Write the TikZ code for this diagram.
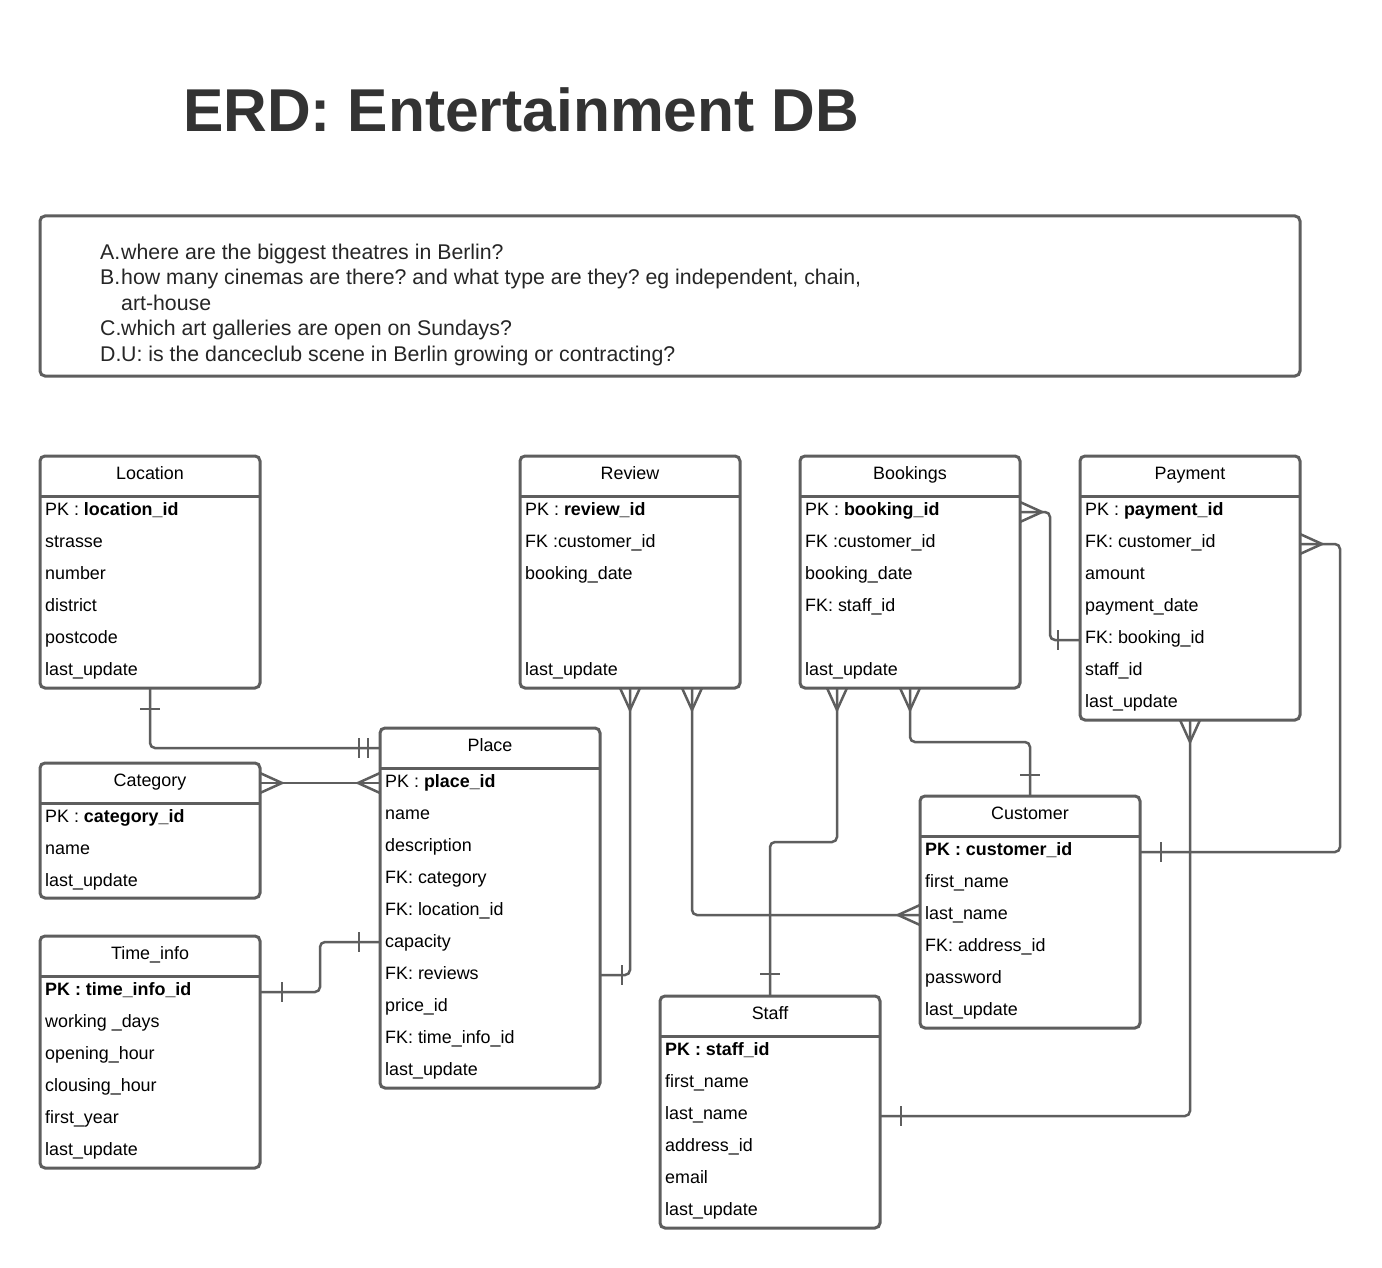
\documentclass[tikz,border=0pt]{standalone}
\usepackage{fontspec}
\setmainfont{Liberation Sans}
\usetikzlibrary{calc}
\frenchspacing
\definecolor{boxgray}{HTML}{5E5E5E}
\definecolor{titlegray}{HTML}{333333}
\tikzset{
  tbl/.style={draw=boxgray, line width=3pt, rounded corners=5pt, fill=white,
    minimum width=220pt, anchor=north west, inner sep=0pt, outer sep=0pt},
  tblline/.style={draw=boxgray, line width=3pt},
  hdr/.style={anchor=base, inner sep=0pt, font=\fontsize{17.9}{21}\selectfont, text=black},
  rowtxt/.style={anchor=base west, inner sep=0pt, font=\fontsize{17.9}{21}\selectfont, text=black},
  qtxt/.style={anchor=base west, inner sep=0pt, font=\fontsize{21.3}{25}\selectfont, text=black!85},
  conn/.style={draw=boxgray, line width=2.5pt, rounded corners=5pt},
  tick/.style={draw=boxgray, line width=2.5pt},
  crow/.style={draw=boxgray, line width=2.5pt, line join=miter},
}
\newcommand\erdbox[5]{%
  \node[tbl, minimum height=#4] (#1) at (#2,#3) {};
  \draw[tblline] ($(#1.north west)+(0,40)$) -- ($(#1.north east)+(0,40)$);
  \node[hdr] (#1-t) at ($(#1.north)+(0,23.5)$) {#5};
}
\begin{document}
\begin{tikzpicture}[x=1pt, y=-1pt]
\useasboundingbox[fill=white] (0,0) rectangle (1382,1268);

% title
\node[anchor=base west, inner sep=0pt, text=titlegray, font=\fontsize{60.5}{66}\selectfont\bfseries] (title) at (183,132) {ERD: Entertainment DB};

% questions box
\node[draw=boxgray, line width=3pt, rounded corners=5pt, minimum width=1260pt, minimum height=160pt, anchor=north west, inner sep=0pt, outer sep=0pt] (qbox) at (40,216) {};
\node[qtxt] (q1) at (100,259) {\makebox[21pt][l]{A.}where are the biggest theatres in Berlin?};
\node[qtxt] (q2) at (100,284.5) {\makebox[21pt][l]{B.}how many cinemas are there? and what type are they? eg independent, chain,};
\node[qtxt] (q3) at (121,310) {art-house};
\node[qtxt] (q4) at (100,335.5) {\makebox[21pt][l]{C.}which art galleries are open on Sundays?};
\node[qtxt] (q5) at (100,361) {\makebox[21pt][l]{D.}U: is the danceclub scene in Berlin growing or contracting?};

% tables
\erdbox{loc}{40}{456}{232}{Location}
\foreach \i/\txt in {0/{PK : \textbf{location\_id}}, 1/strasse, 2/number, 3/district, 4/postcode, 5/last\_update}
  \node[rowtxt] (loc-\i) at ($(loc.north west)+(5,59.5+32*\i)$) {\txt};

\erdbox{rev}{520}{456}{232}{Review}
\foreach \i/\txt in {0/{PK : \textbf{review\_id}}, 1/{FK :customer\_id}, 2/booking\_date, 5/last\_update}
  \node[rowtxt] (rev-\i) at ($(rev.north west)+(5,59.5+32*\i)$) {\txt};

\erdbox{book}{800}{456}{232}{Bookings}
\foreach \i/\txt in {0/{PK : \textbf{booking\_id}}, 1/{FK :customer\_id}, 2/booking\_date, 3/{FK: staff\_id}, 5/last\_update}
  \node[rowtxt] (book-\i) at ($(book.north west)+(5,59.5+32*\i)$) {\txt};

\erdbox{pay}{1080}{456}{264}{Payment}
\foreach \i/\txt in {0/{PK : \textbf{payment\_id}}, 1/{FK: customer\_id}, 2/amount, 3/payment\_date, 4/{FK: booking\_id}, 5/staff\_id, 6/last\_update}
  \node[rowtxt] (pay-\i) at ($(pay.north west)+(5,59.5+32*\i)$) {\txt};

\erdbox{place}{380}{728}{360}{Place}
\foreach \i/\txt in {0/{PK : \textbf{place\_id}}, 1/name, 2/description, 3/{FK: category}, 4/{FK: location\_id}, 5/capacity, 6/{FK: reviews}, 7/price\_id, 8/{FK: time\_info\_id}, 9/last\_update}
  \node[rowtxt] (place-\i) at ($(place.north west)+(5,59.5+32*\i)$) {\txt};

\erdbox{cat}{40}{763}{135}{Category}
\foreach \i/\txt in {0/{PK : \textbf{category\_id}}, 1/name, 2/last\_update}
  \node[rowtxt] (cat-\i) at ($(cat.north west)+(5,59.5+32*\i)$) {\txt};

\erdbox{time}{40}{936}{232}{Time\_info}
\foreach \i/\txt in {0/{\textbf{PK : time\_info\_id}}, 1/{working \_days}, 2/opening\_hour, 3/clousing\_hour, 4/first\_year, 5/last\_update}
  \node[rowtxt] (time-\i) at ($(time.north west)+(5,59.5+32*\i)$) {\txt};

\erdbox{cust}{920}{796}{232}{Customer}
\foreach \i/\txt in {0/{\textbf{PK : customer\_id}}, 1/first\_name, 2/last\_name, 3/{FK: address\_id}, 4/password, 5/last\_update}
  \node[rowtxt] (cust-\i) at ($(cust.north west)+(5,59.5+32*\i)$) {\txt};

\erdbox{staff}{660}{996}{232}{Staff}
\foreach \i/\txt in {0/{\textbf{PK : staff\_id}}, 1/first\_name, 2/last\_name, 3/address\_id, 4/email, 5/last\_update}
  \node[rowtxt] (staff-\i) at ($(staff.north west)+(5,59.5+32*\i)$) {\txt};

% ---------- connectors ----------
% 1 Location -- Place
\coordinate (a1) at (loc.south);
\coordinate (b1) at ($(place.north west)+(0,20)$);
\draw[conn] (a1) |- (b1);
\draw[tick] ($(a1)+(-10,21)$) -- ($(a1)+(10,21)$);
\draw[tick] ($(b1)+(-21,-10)$) -- ($(b1)+(-21,10)$);
\draw[tick] ($(b1)+(-12,-10)$) -- ($(b1)+(-12,10)$);

% 2 Category -- Place
\coordinate (a2) at ($(cat.north east)+(0,20)$);
\coordinate (b2) at ($(place.north west)+(0,55)$);
\draw[conn] (a2) -- (b2);
\draw[crow] ($(a2)+(0,-10)$) -- ($(a2)+(22,0)$) -- ($(a2)+(0,10)$);
\draw[crow] ($(b2)+(0,-10)$) -- ($(b2)+(-22,0)$) -- ($(b2)+(0,10)$);

% 3 Time_info -- Place
\coordinate (a3) at ($(time.north east)+(0,56)$);
\coordinate (b3) at ($(place.north west)+(0,214)$);
\draw[conn] (a3) -- ($(a3)+(60,0)$) -- ($(b3)+(-60,0)$) -- (b3);
\draw[tick] ($(a3)+(22,-10)$) -- ($(a3)+(22,10)$);
\draw[tick] ($(b3)+(-21,-10)$) -- ($(b3)+(-21,10)$);

% 4 Place -- Review
\coordinate (a4) at ($(place.north east)+(0,247)$);
\coordinate (b4) at ($(rev.south west)+(110,0)$);
\draw[conn] (a4) -| (b4);
\draw[tick] ($(a4)+(22,-10)$) -- ($(a4)+(22,10)$);
\draw[crow] ($(b4)+(-10,0)$) -- ($(b4)+(0,22)$) -- ($(b4)+(10,0)$);

% 5 Review -- Customer
\coordinate (a5) at ($(rev.south west)+(172,0)$);
\coordinate (b5) at ($(cust.north west)+(0,119)$);
\draw[conn] (a5) |- (b5);
\draw[crow] ($(a5)+(-10,0)$) -- ($(a5)+(0,22)$) -- ($(a5)+(10,0)$);
\draw[crow] ($(b5)+(0,-10)$) -- ($(b5)+(-22,0)$) -- ($(b5)+(0,10)$);

% 6 Bookings -- Staff
\coordinate (a6) at ($(book.south west)+(37,0)$);
\coordinate (b6) at (staff.north);
\draw[conn] (a6) -- ($(a6)+(0,154)$) -- ($(b6)+(0,-154)$) -- (b6);
\draw[crow] ($(a6)+(-10,0)$) -- ($(a6)+(0,22)$) -- ($(a6)+(10,0)$);
\draw[tick] ($(b6)+(-10,-22)$) -- ($(b6)+(10,-22)$);

% 7 Bookings -- Customer
\coordinate (a7) at ($(book.south west)+(110,0)$);
\coordinate (b7) at (cust.north);
\draw[conn] (a7) -- ($(a7)+(0,54)$) -- ($(b7)+(0,-54)$) -- (b7);
\draw[crow] ($(a7)+(-10,0)$) -- ($(a7)+(0,22)$) -- ($(a7)+(10,0)$);
\draw[tick] ($(b7)+(-10,-21)$) -- ($(b7)+(10,-21)$);

% 8 Bookings -- Payment
\coordinate (a8) at ($(book.north east)+(0,56)$);
\coordinate (b8) at ($(pay.north west)+(0,184)$);
\draw[conn] (a8) -- ($(a8)+(30,0)$) -- ($(b8)+(-30,0)$) -- (b8);
\draw[crow] ($(a8)+(0,-10)$) -- ($(a8)+(22,0)$) -- ($(a8)+(0,10)$);
\draw[tick] ($(b8)+(-22,-10)$) -- ($(b8)+(-22,10)$);

% 9 Payment -- Customer
\coordinate (a9) at ($(pay.north east)+(0,88)$);
\coordinate (b9) at ($(cust.north east)+(0,56)$);
\draw[conn] (a9) -- ($(a9)+(40,0)$) -- ($(b9)+(200,0)$) -- (b9);
\draw[crow] ($(a9)+(0,-10)$) -- ($(a9)+(22,0)$) -- ($(a9)+(0,10)$);
\draw[tick] ($(b9)+(21,-10)$) -- ($(b9)+(21,10)$);

% 10 Payment -- Staff
\coordinate (a10) at (pay.south);
\coordinate (b10) at ($(staff.north east)+(0,120)$);
\draw[conn] (a10) |- (b10);
\draw[crow] ($(a10)+(-10,0)$) -- ($(a10)+(0,22)$) -- ($(a10)+(10,0)$);
\draw[tick] ($(b10)+(21,-10)$) -- ($(b10)+(21,10)$);
\end{tikzpicture}
\end{document}
